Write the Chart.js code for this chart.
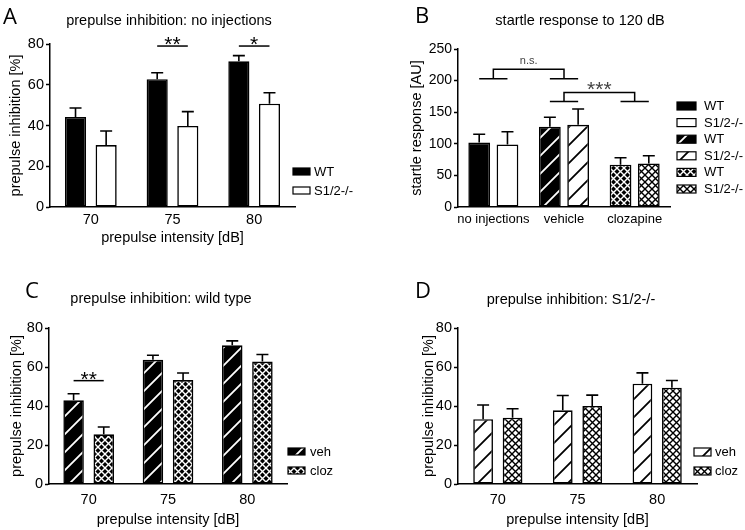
<!DOCTYPE html>
<html>
<head>
<meta charset="utf-8">
<script src="https://cdn.jsdelivr.net/npm/chart.js@4.4.0/dist/chart.umd.min.js"></script>
<style>
  body { margin: 0; background: #fff; }
  .panel { position: absolute; }
</style>
</head>
<body>
<div class="panel" style="left:0;top:0"><canvas id="chartA" width="372" height="265"></canvas></div>
<div class="panel" style="left:372px;top:0"><canvas id="chartB" width="373" height="265"></canvas></div>
<div class="panel" style="left:0;top:265px"><canvas id="chartC" width="372" height="265"></canvas></div>
<div class="panel" style="left:372px;top:265px"><canvas id="chartD" width="373" height="265"></canvas></div>

<script>
// ---- data ----
var intensities = ['70', '75', '80'];

// A: prepulse inhibition, no injections (mean, SEM)
var piWT = [44.2, 62.7, 71.5];
var piWTerr = [4.4, 3.2, 2.8];
var piKO = [30.4, 39.8, 50.7];
var piKOerr = [6.9, 7.0, 5.4];
var sigA = [[1, '**', 79], [2, '*', 79]];   // [category, label, y]

// B: startle response to 120 dB
var startleGroups = ['no injections', 'vehicle', 'clozapine'];
var startleWT = [102, 127, 67];
var startleWTerr = [13, 15, 11];
var startleKO = [99, 130, 69];
var startleKOerr = [20, 25, 12];
var sigB = [[0, 1, 'n.s.', 203, 218], [1, 2, '***', 167, 181]];   // [from, to, label, base y, top y]

// C: prepulse inhibition, wild type
var wtVeh = [42.9, 63.7, 71.1];
var wtVehErr = [3.4, 2.3, 2.3];
var wtCloz = [25.5, 53.3, 62.8];
var wtClozErr = [3.7, 3.6, 3.6];
var sigC = [[0, '**', 53]];

// D: prepulse inhibition, S1/2-/-
var koVeh = [33.2, 37.8, 51.4];
var koVehErr = [7.3, 7.6, 5.6];
var koCloz = [34.0, 40.0, 49.4];
var koClozErr = [4.6, 5.6, 3.7];

var piTicks = [0, 20, 40, 60, 80];
var startleTicks = [0, 50, 100, 150, 200, 250];

var FONT = '"Liberation Sans", Arial, sans-serif';

// ---- fill patterns ----
function hatch(bg, fg) {
    var s = 18, c = document.createElement('canvas');
    c.width = s; c.height = s;
    var g = c.getContext('2d');
    g.fillStyle = bg; g.fillRect(0, 0, s, s);
    g.strokeStyle = fg; g.lineWidth = 1.8;
    g.beginPath();
    g.moveTo(-2, s + 2); g.lineTo(s + 2, -2);
    g.moveTo(-2, 2); g.lineTo(2, -2);
    g.moveTo(s - 2, s + 2); g.lineTo(s + 2, s - 2);
    g.stroke();
    return g.createPattern(c, 'repeat');
}
function cross(bg, fg) {
    var s = 7, c = document.createElement('canvas');
    c.width = s; c.height = s;
    var g = c.getContext('2d');
    g.fillStyle = bg; g.fillRect(0, 0, s, s);
    g.strokeStyle = fg; g.lineWidth = 1.4;
    g.beginPath();
    g.moveTo(0, 0); g.lineTo(s, s);
    g.moveTo(0, s); g.lineTo(s, 0);
    g.stroke();
    return g.createPattern(c, 'repeat');
}
var hatchBlack = hatch('#000', '#fff');
var hatchWhite = hatch('#fff', '#000');
var crossBlack = cross('#000', '#fff');
var crossWhite = cross('#fff', '#000');

// ---- plugins ----
var errorBars = {
    id: 'errorBars',
    afterDatasetsDraw: function(chart) {
        var c = chart.ctx, ys = chart.scales.y;
        c.save();
        c.strokeStyle = '#000';
        c.lineWidth = 1.6;
        chart.data.datasets.forEach(function(ds, di) {
            if (!ds.errors) return;
            chart.getDatasetMeta(di).data.forEach(function(bar, i) {
                var top = ys.getPixelForValue(ds.data[i] + ds.errors[i]);
                c.beginPath();
                c.moveTo(bar.x, bar.y); c.lineTo(bar.x, top);
                c.moveTo(bar.x - 6, top); c.lineTo(bar.x + 6, top);
                c.stroke();
            });
        });
        c.restore();
    }
};

var deco = {
    id: 'deco',
    afterDraw: function(chart, args, o) {
        var c = chart.ctx, ys = chart.scales.y;
        var m0 = chart.getDatasetMeta(0).data, m1 = chart.getDatasetMeta(1).data;
        c.save();
        // panel letter
        c.fillStyle = '#000';
        c.font = '22px "Open Sans", ' + FONT;
        c.textAlign = 'left'; c.textBaseline = 'alphabetic';
        c.fillText(o.letter, o.letterX, o.letterY);
        // title
        c.font = '14.5px ' + FONT;
        c.textAlign = 'center'; c.textBaseline = 'middle';
        c.fillText(o.title, o.titleX, o.titleY);

        // legend
        c.lineWidth = 1.2; c.strokeStyle = '#000';
        (o.legend || []).forEach(function(it, i) {
            var y = o.legY + i * o.legStep;
            c.fillStyle = it[0];
            c.fillRect(o.legX, y, o.legW, o.legH);
            c.strokeRect(o.legX, y, o.legW, o.legH);
            c.fillStyle = '#000';
            c.font = '13px ' + FONT;
            c.textAlign = 'left'; c.textBaseline = 'middle';
            c.fillText(it[1], o.legX + o.legW + o.legGap, y + o.legH / 2 + 0.5);
        });

        // significance bars within one category
        c.lineWidth = 1.5; c.strokeStyle = '#000';
        (o.sig || []).forEach(function(s) {
            var y = ys.getPixelForValue(s[2]);
            var x0 = m0[s[0]].x, x1 = m1[s[0]].x;
            c.beginPath(); c.moveTo(x0, y); c.lineTo(x1, y); c.stroke();
            c.fillStyle = '#000';
            c.font = '21px ' + FONT;
            c.textAlign = 'center'; c.textBaseline = 'alphabetic';
            c.fillText(s[1], (x0 + x1) / 2, y + 5);
        });

        // brackets between groups
        (o.brackets || []).forEach(function(s) {
            var yb = ys.getPixelForValue(s[3]), yt = ys.getPixelForValue(s[4]);
            var a0 = m0[s[0]].x, a1 = m1[s[0]].x, b0 = m0[s[1]].x, b1 = m1[s[1]].x;
            var ca = (a0 + a1) / 2, cb = (b0 + b1) / 2;
            c.beginPath();
            c.moveTo(a0, yb); c.lineTo(a1, yb);
            c.moveTo(b0, yb); c.lineTo(b1, yb);
            c.moveTo(ca, yb); c.lineTo(ca, yt); c.lineTo(cb, yt); c.lineTo(cb, yb);
            c.stroke();
            c.fillStyle = '#444';
            if (s[2] === 'n.s.') {
                c.font = '11px ' + FONT;
                c.textAlign = 'center'; c.textBaseline = 'middle';
                c.fillText(s[2], (ca + cb) / 2, yt - 8);
            } else {
                c.font = '21px ' + FONT;
                c.textAlign = 'center'; c.textBaseline = 'alphabetic';
                c.fillText(s[2], (ca + cb) / 2, yt + 3);
            }
        });
        c.restore();
    }
};

function panel(id, o) {
    var a = o.area;
    return new Chart(document.getElementById(id), {
        type: 'bar',
        data: { labels: o.labels, datasets: o.datasets },
        options: {
            responsive: false,
            animation: false,
            layout: { padding: { left: 0, top: a.top, right: o.w - a.right, bottom: 0 } },
            plugins: { legend: { display: false }, tooltip: { enabled: false }, deco: o.deco },
            scales: {
                x: {
                    offset: true,
                    grid: { display: false, drawTicks: false },
                    border: { display: true, color: '#000', width: 1.5 },
                    ticks: { color: '#000', font: { family: FONT, size: o.xFont }, padding: o.xPad, maxRotation: 0, autoSkip: false },
                    title: { display: !!o.xTitle, text: o.xTitle, color: '#000', font: { family: FONT, size: 14.5 },
                             padding: { top: 0, bottom: o.xTitlePad } },
                    afterFit: function(s) { s.height = o.h - a.bottom; }
                },
                y: {
                    min: 0, max: o.yTicks[o.yTicks.length - 1],
                    afterBuildTicks: function(s) { s.ticks = o.yTicks.map(function(v) { return { value: v }; }); },
                    grid: { display: true, drawOnChartArea: false, drawTicks: true, tickLength: 4, tickWidth: 1.5, tickColor: '#000', color: '#000' },
                    border: { display: true, color: '#000', width: 1.5 },
                    ticks: { color: '#000', font: { family: FONT, size: o.yFont }, padding: 2 },
                    title: { display: true, text: o.yTitle, color: '#000', font: { family: FONT, size: 14.5 },
                             padding: { top: o.yTitleX - 8.7, bottom: 0 } },
                    afterFit: function(s) { s.width = a.left; }
                }
            }
        },
        plugins: [errorBars, deco]
    });
}

function bars(data, errors, fill, cp, bp) {
    return { data: data, errors: errors, backgroundColor: fill, borderColor: '#000', borderWidth: 1.6,
             borderSkipped: false, categoryPercentage: cp, barPercentage: bp };
}

panel('chartA', {
    w: 372, h: 265, area: { left: 50, right: 295, top: 44, bottom: 207 },
    labels: intensities, yTicks: piTicks, xFont: 14.5, yFont: 14.5,
    yTitle: 'prepulse inhibition [%]', yTitleX: 16,
    xTitle: 'prepulse intensity [dB]', xPad: 4, xTitlePad: 18,
    datasets: [bars(piWT, piWTerr, '#000', 0.75, 0.69), bars(piKO, piKOerr, '#fff', 0.75, 0.69)],
    deco: { letter: 'A', letterX: 3, letterY: 24, title: 'prepulse inhibition: no injections', titleX: 169, titleY: 21,
            legend: [['#000', 'WT'], ['#fff', 'S1/2-/-']], legX: 293, legY: 168, legStep: 19, legW: 17, legH: 7, legGap: 4,
            sig: sigA }
});

panel('chartB', {
    w: 373, h: 265, area: { left: 86, right: 298, top: 49, bottom: 207 },
    labels: startleGroups, yTicks: startleTicks, xFont: 13, yFont: 14,
    yTitle: 'startle response [AU]', yTitleX: 45,
    xTitle: '', xPad: 5, xTitlePad: 0,
    datasets: [bars(startleWT, startleWTerr, ['#000', hatchBlack, crossBlack], 0.8, 0.77),
               bars(startleKO, startleKOerr, ['#fff', hatchWhite, crossWhite], 0.8, 0.77)],
    deco: { letter: 'B', letterX: 43, letterY: 23, title: 'startle response to 120 dB', titleX: 208, titleY: 21,
            legend: [['#000', 'WT'], ['#fff', 'S1/2-/-'], [hatchBlack, 'WT'], [hatchWhite, 'S1/2-/-'], [crossBlack, 'WT'], [crossWhite, 'S1/2-/-']],
            legX: 305, legY: 102, legStep: 16.6, legW: 19, legH: 8, legGap: 8,
            brackets: sigB }
});

panel('chartC', {
    w: 372, h: 265, area: { left: 49, right: 287, top: 63, bottom: 219 },
    labels: intensities, yTicks: piTicks, xFont: 14.5, yFont: 14.5,
    yTitle: 'prepulse inhibition [%]', yTitleX: 17,
    xTitle: 'prepulse intensity [dB]', xPad: 7, xTitlePad: 1,
    datasets: [bars(wtVeh, wtVehErr, hatchBlack, 0.76, 0.68), bars(wtCloz, wtClozErr, crossBlack, 0.76, 0.68)],
    deco: { letter: 'C', letterX: 25, letterY: 33, title: 'prepulse inhibition: wild type', titleX: 161, titleY: 34,
            legend: [[hatchBlack, 'veh'], [crossBlack, 'cloz']], legX: 288, legY: 183, legStep: 19, legW: 17, legH: 7, legGap: 5,
            sig: sigC }
});

panel('chartD', {
    w: 373, h: 265, area: { left: 86, right: 325, top: 63, bottom: 219 },
    labels: intensities, yTicks: piTicks, xFont: 14.5, yFont: 14.5,
    yTitle: 'prepulse inhibition [%]', yTitleX: 57,
    xTitle: 'prepulse intensity [dB]', xPad: 7, xTitlePad: 1,
    datasets: [bars(koVeh, koVehErr, hatchWhite, 0.74, 0.67), bars(koCloz, koClozErr, crossWhite, 0.74, 0.67)],
    deco: { letter: 'D', letterX: 43, letterY: 33, title: 'prepulse inhibition: S1/2-/-', titleX: 199, titleY: 35,
            legend: [[hatchWhite, 'veh'], [crossWhite, 'cloz']], legX: 322, legY: 183, legStep: 19, legW: 17, legH: 8, legGap: 4 }
});
</script>
</body>
</html>
